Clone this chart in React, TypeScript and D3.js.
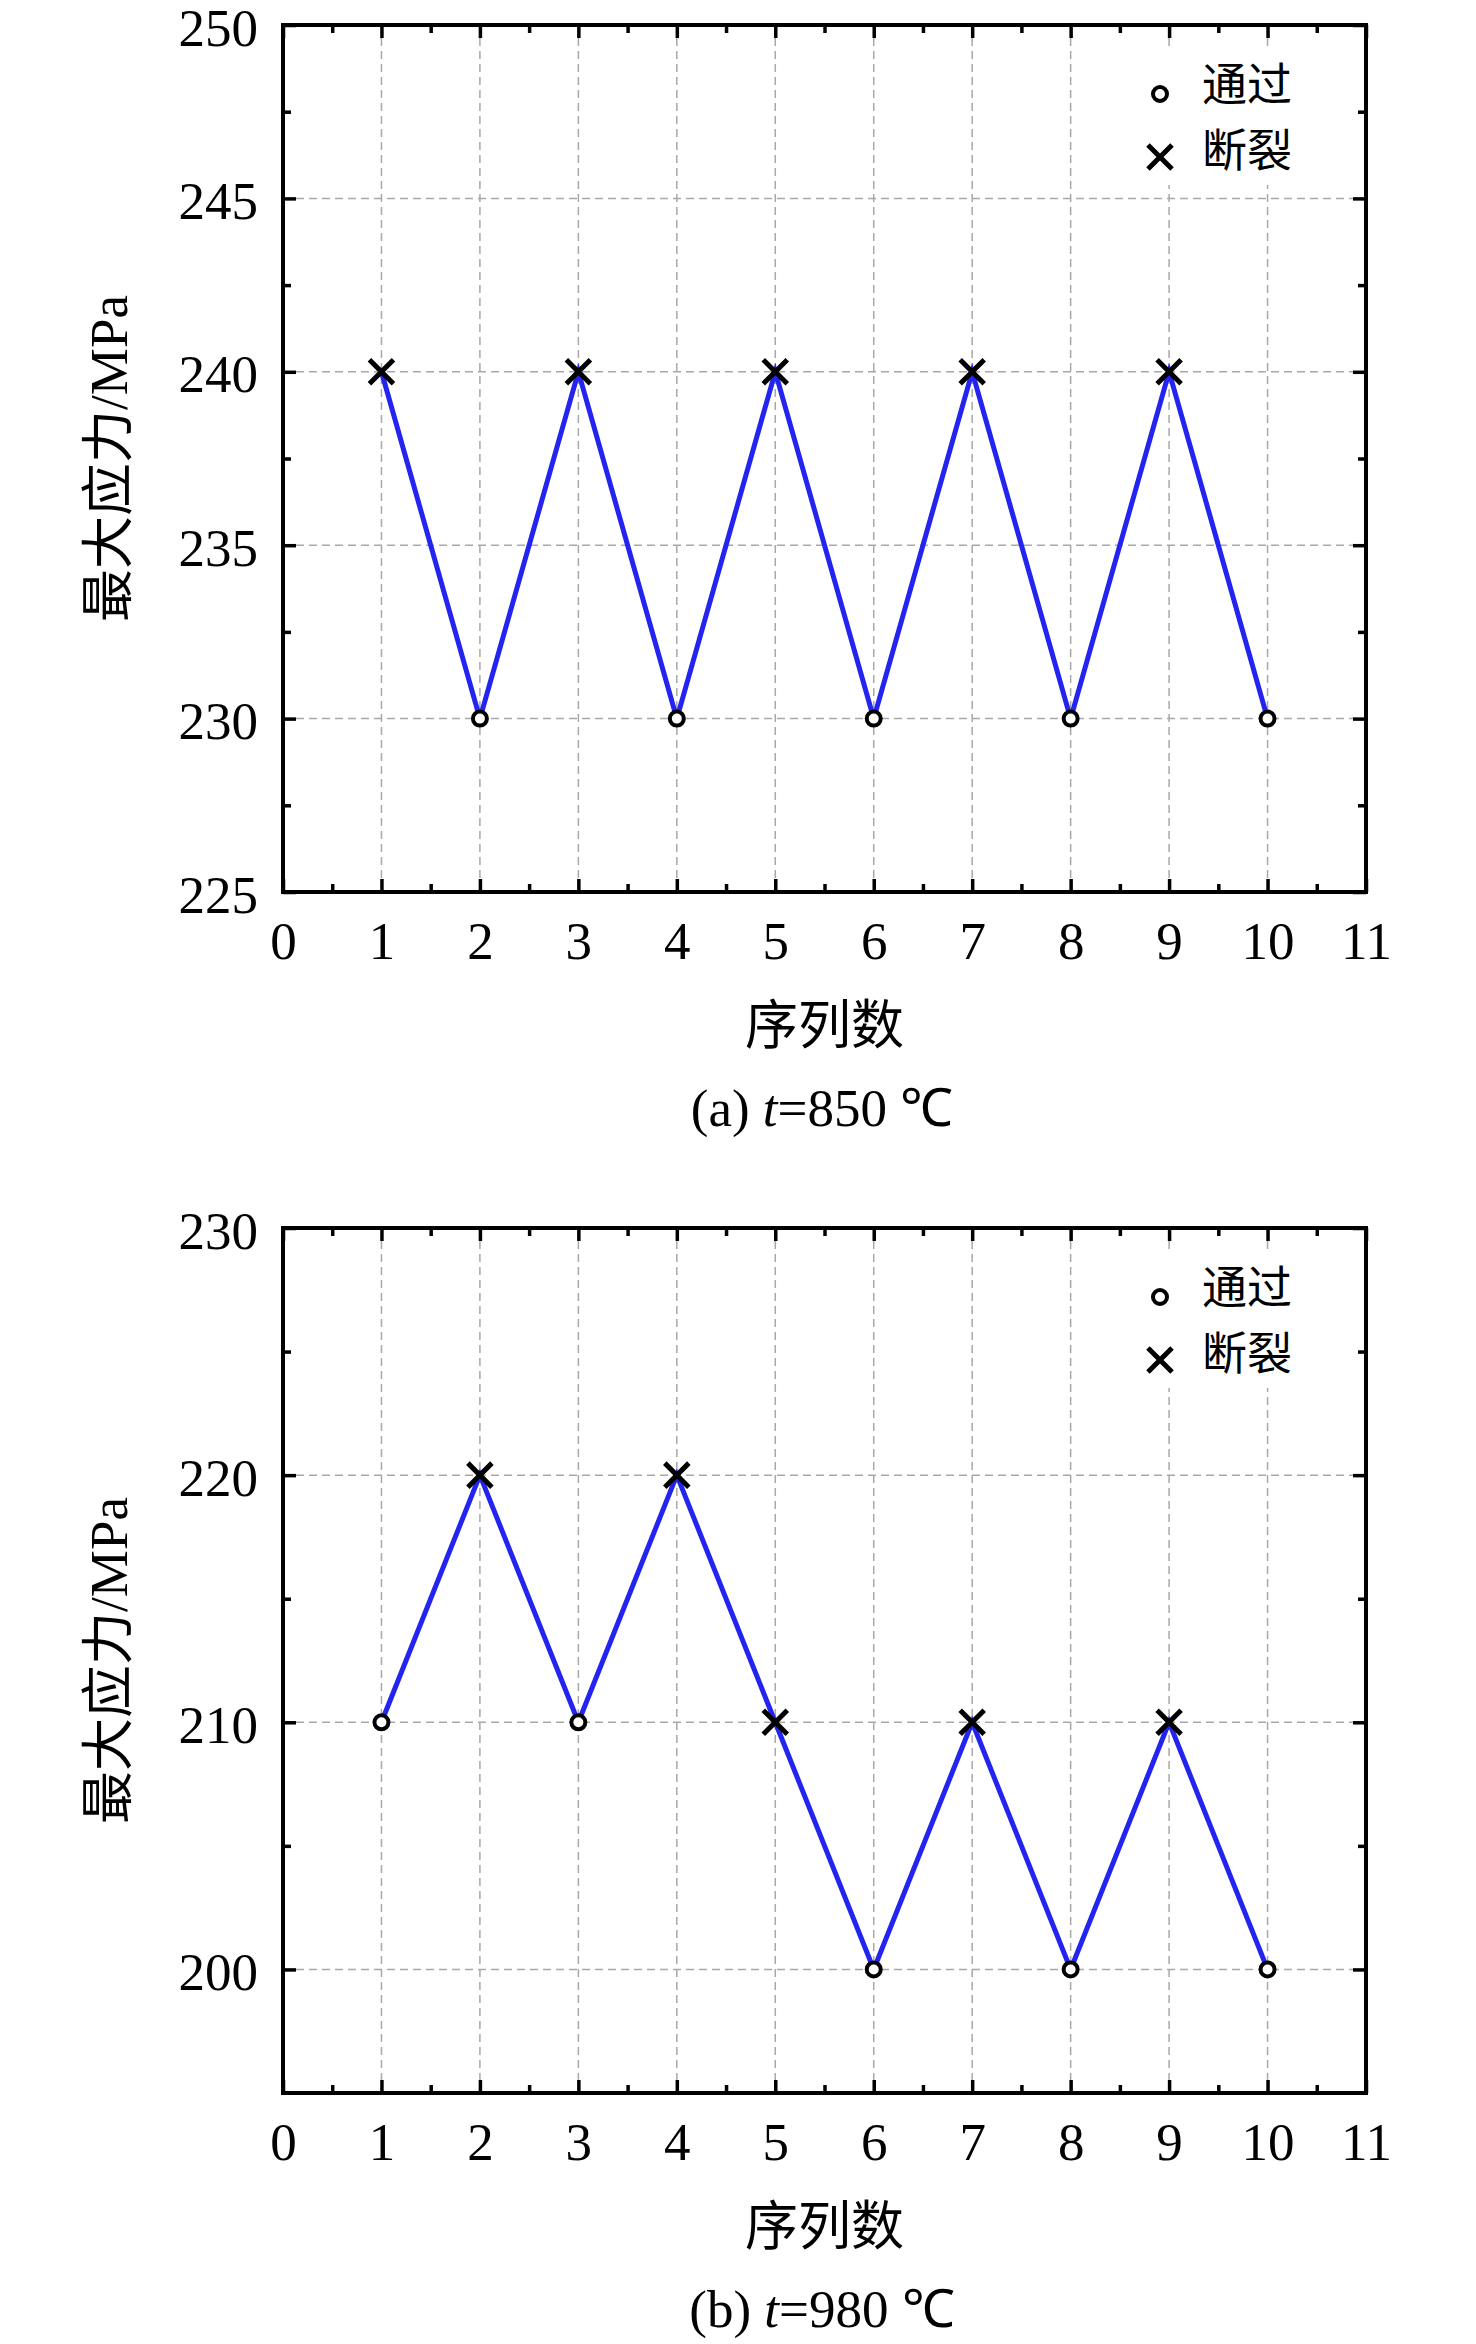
import * as d3 from 'd3';
import { useEffect, useRef } from 'react';

// 序列数
const sequence = [1, 2, 3, 4, 5, 6, 7, 8, 9, 10];
const xTickValues = [0, 1, 2, 3, 4, 5, 6, 7, 8, 9, 10, 11];

// (a) t=850 ℃
const stressA = [240, 230, 240, 230, 240, 230, 240, 230, 240, 230];
const resultA = ['断裂', '通过', '断裂', '通过', '断裂', '通过', '断裂', '通过', '断裂', '通过'];
const yTicksA = [225, 230, 235, 240, 245, 250];

// (b) t=980 ℃
const stressB = [210, 220, 210, 220, 210, 200, 210, 200, 210, 200];
const resultB = ['通过', '断裂', '通过', '断裂', '断裂', '通过', '断裂', '通过', '断裂', '通过'];
const yTicksB = [200, 210, 220, 230];

const legendLabels = ['通过', '断裂'];

type Panel = {
    top: number;
    bottom: number;
    yDomain: [number, number];
    yTicks: number[];
    stress: number[];
    result: string[];
    tag: string;
    temp: string;
};

const panels: Panel[] = [
    { top: 25, bottom: 892, yDomain: [225, 250], yTicks: yTicksA, stress: stressA, result: resultA, tag: '(a) ', temp: '=850 ℃' },
    { top: 1228, bottom: 2093, yDomain: [195, 230], yTicks: yTicksB, stress: stressB, result: resultB, tag: '(b) ', temp: '=980 ℃' },
];

const LEFT = 283;
const RIGHT = 1366;
const SERIF = '"Liberation Serif", "Times New Roman", serif';
const CJK = '"Noto Sans CJK SC", sans-serif';
const FS = 53;

const mids = (arr: number[]) => arr.slice(1).map((v, i) => (v + arr[i]) / 2);

export default function App() {
    const ref = useRef<SVGSVGElement | null>(null);

    useEffect(() => {
        if (!ref.current) return;
        const svg = d3.select(ref.current);
        svg.selectAll('*').remove();

        const crossPath = d3.symbol(d3.symbolX, 378)()!;
        const circlePath = d3.symbol(d3.symbolCircle, 154)()!;

        panels.forEach((p) => {
            const x = d3.scaleLinear().domain([0, 11]).range([LEFT, RIGHT]);
            const y = d3.scaleLinear().domain(p.yDomain).range([p.bottom, p.top]);
            const g = svg.append('g');

            // 网格
            const grid = g.append('g').attr('stroke', '#a8a8a8').attr('stroke-width', 1.5).attr('stroke-dasharray', '8,5');
            grid.selectAll('line.v')
                .data(sequence)
                .join('line')
                .attr('class', 'v')
                .attr('x1', (d) => x(d))
                .attr('x2', (d) => x(d))
                .attr('y1', p.top)
                .attr('y2', p.bottom);
            grid.selectAll('line.h')
                .data(p.yTicks.filter((t) => t > p.yDomain[0] && t < p.yDomain[1]))
                .join('line')
                .attr('class', 'h')
                .attr('x1', LEFT)
                .attr('x2', RIGHT)
                .attr('y1', (d) => y(d))
                .attr('y2', (d) => y(d));

            // 图例底色
            g.append('rect')
                .attr('x', 1130)
                .attr('y', p.top + 25)
                .attr('width', 220)
                .attr('height', 135)
                .attr('fill', '#fff');

            // 刻度（朝内）
            const styleAxis = (sel: d3.Selection<SVGGElement, unknown, null, undefined>, w: number) => {
                sel.select('.domain').remove();
                sel.selectAll('line').attr('stroke', '#000').attr('stroke-width', w);
                sel.attr('font-family', SERIF).attr('font-size', FS);
                sel.selectAll('text').attr('fill', '#000');
            };

            g.append('g')
                .attr('transform', `translate(0,${p.bottom})`)
                .call(d3.axisBottom(x).tickValues(xTickValues).tickSizeInner(-13).tickSizeOuter(0).tickPadding(29).tickFormat(d3.format('d')))
                .call((s) => styleAxis(s, 3.5));
            g.append('g')
                .attr('transform', `translate(0,${p.bottom})`)
                .call(d3.axisBottom(x).tickValues(mids(xTickValues)).tickSizeInner(-8).tickSizeOuter(0).tickFormat(() => ''))
                .call((s) => styleAxis(s, 3.5));
            g.append('g')
                .attr('transform', `translate(0,${p.top})`)
                .call(d3.axisTop(x).tickValues(xTickValues).tickSizeInner(-13).tickSizeOuter(0).tickFormat(() => ''))
                .call((s) => styleAxis(s, 3.5));
            g.append('g')
                .attr('transform', `translate(0,${p.top})`)
                .call(d3.axisTop(x).tickValues(mids(xTickValues)).tickSizeInner(-8).tickSizeOuter(0).tickFormat(() => ''))
                .call((s) => styleAxis(s, 3.5));

            g.append('g')
                .attr('transform', `translate(${LEFT},0)`)
                .call(d3.axisLeft(y).tickValues(p.yTicks).tickSizeInner(-13).tickSizeOuter(0).tickPadding(25).tickFormat(d3.format('d')))
                .call((s) => styleAxis(s, 3.5))
                .selectAll('text')
                .attr('dy', '0.38em');
            g.append('g')
                .attr('transform', `translate(${LEFT},0)`)
                .call(d3.axisLeft(y).tickValues(mids(p.yTicks)).tickSizeInner(-8).tickSizeOuter(0).tickFormat(() => ''))
                .call((s) => styleAxis(s, 3.5));
            g.append('g')
                .attr('transform', `translate(${RIGHT},0)`)
                .call(d3.axisRight(y).tickValues(p.yTicks).tickSizeInner(-13).tickSizeOuter(0).tickFormat(() => ''))
                .call((s) => styleAxis(s, 3.5));
            g.append('g')
                .attr('transform', `translate(${RIGHT},0)`)
                .call(d3.axisRight(y).tickValues(mids(p.yTicks)).tickSizeInner(-8).tickSizeOuter(0).tickFormat(() => ''))
                .call((s) => styleAxis(s, 3.5));

            // 外框
            g.append('rect')
                .attr('x', LEFT)
                .attr('y', p.top)
                .attr('width', RIGHT - LEFT)
                .attr('height', p.bottom - p.top)
                .attr('fill', 'none')
                .attr('stroke', '#000')
                .attr('stroke-width', 4);

            // 折线
            const line = d3
                .line<number>()
                .x((_, i) => x(sequence[i]))
                .y((d) => y(d));
            g.append('path')
                .datum(p.stress)
                .attr('d', line)
                .attr('fill', 'none')
                .attr('stroke', '#2424f0')
                .attr('stroke-width', 5)
                .attr('stroke-linejoin', 'miter');

            // 标记
            g.append('g')
                .selectAll('path')
                .data(p.stress)
                .join('path')
                .attr('transform', (d, i) => `translate(${x(sequence[i])},${y(d)})`)
                .attr('d', (_, i) => (p.result[i] === '断裂' ? crossPath : circlePath))
                .attr('fill', (_, i) => (p.result[i] === '断裂' ? 'none' : '#fff'))
                .attr('stroke', '#000')
                .attr('stroke-width', (_, i) => (p.result[i] === '断裂' ? 5 : 4));

            // 图例
            const lg = g.append('g');
            legendLabels.forEach((label, i) => {
                lg.append('path')
                    .attr('transform', `translate(1160,${p.top + 69 + i * 63})`)
                    .attr('d', label === '断裂' ? crossPath : circlePath)
                    .attr('fill', label === '断裂' ? 'none' : '#fff')
                    .attr('stroke', '#000')
                    .attr('stroke-width', label === '断裂' ? 5 : 4);
                lg.append('text')
                    .attr('x', 1202)
                    .attr('y', p.top + 76 + i * 66)
                    .attr('font-family', CJK)
                    .attr('font-size', 45)
                    .text(label);
            });

            // 坐标轴标题
            g.append('text')
                .attr('transform', `translate(127,${(p.top + p.bottom) / 2}) rotate(-90)`)
                .attr('text-anchor', 'middle')
                .attr('font-size', FS)
                .call((t) => {
                    t.append('tspan').attr('font-family', CJK).text('最大应力');
                    t.append('tspan').attr('font-family', SERIF).text('/MPa');
                });
            g.append('text')
                .attr('x', (LEFT + RIGHT) / 2)
                .attr('y', p.bottom + 152)
                .attr('text-anchor', 'middle')
                .attr('font-family', CJK)
                .attr('font-size', FS)
                .text('序列数');

            // 图注
            const cap = g.append('text')
                .attr('x', 822)
                .attr('y', p.bottom + 234)
                .attr('text-anchor', 'middle')
                .attr('font-family', SERIF)
                .attr('font-size', FS);
            cap.append('tspan').text(p.tag);
            cap.append('tspan').attr('font-style', 'italic').text('t');
            cap.append('tspan').text(p.temp);
        });
    }, []);

    return (
        <svg
            ref={ref}
            width={1476}
            height={2344}
            style={{ position: 'absolute', left: 0, top: 0, background: '#fff' }}
        />
    );
}
